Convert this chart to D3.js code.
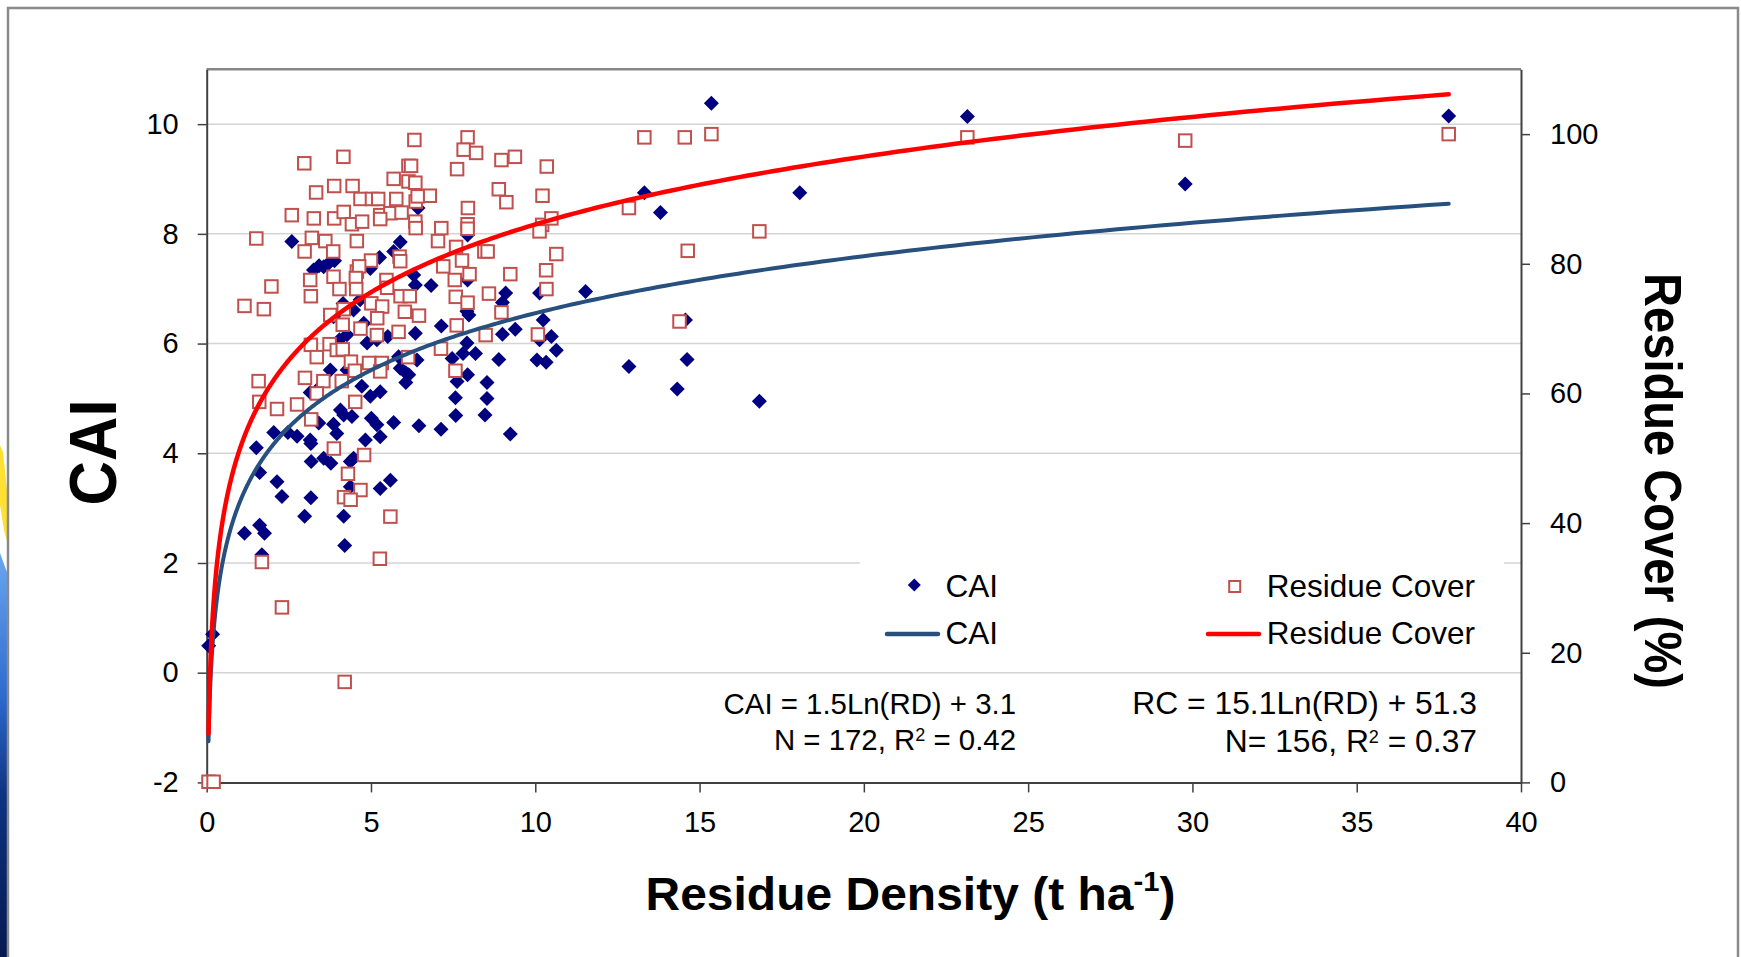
<!DOCTYPE html>
<html><head><meta charset="utf-8">
<script src="https://cdn.jsdelivr.net/npm/d3@7"></script>
<style>
body{margin:0;background:#fff}
svg{display:block}
text{font-family:"Liberation Sans",Arial,Helvetica,sans-serif}
</style>
</head><body>
<svg id="c" width="1741" height="957"></svg>
<script>
// ---------------- DATA ----------------
const caiRD = [2.59,5.89,3.89,5.26,5.69,3.25,3.56,4.98,4.15,4.47,4.67,6.30,6.35,6.83,7.94,9.10,9.00,11.53,10.13,13.32,
  13.81,7.94,6.43,7.14,6.35,7.92,7.98,10.24,10.13,10.49,10.64,9.39,9.00,8.89,10.05,10.33,12.85,14.32,7.92,8.18,
  7.80,7.47,7.94,7.62,8.53,7.57,8.53,5.84,6.40,5.89,6.06,6.06,6.15,4.72,5.28,4.98,3.86,4.78,5.18,5.51,
  4.88,4.27,4.04,3.35,3.15,3.76,4.27,1.51,2.04,2.47,2.75,3.15,3.17,3.41,3.86,3.96,4.07,4.17,4.42,4.83,
  5.01,5.18,5.28,5.69,6.46,7.13,7.58,8.47,9.24,1.61,2.14,2.29,3.17,2.98,3.18,3.56,3.78,4.17,4.20,4.37,
  4.47,5.28,5.59,4.37,1.15,1.61,1.76,1.68,0.06,0.18,14.57,14.62,15.36,18.05,23.15,29.78,37.80,16.82,3.42,3.72];
const caiVal = [7.86,7.85,7.51,7.57,7.68,7.34,7.40,7.37,6.73,6.61,6.80,7.25,7.07,7.06,7.16,6.92,6.75,6.95,6.92,8.75,
  8.39,7.98,8.47,6.32,6.19,6.59,6.52,6.43,6.07,6.13,5.88,6.26,6.17,5.71,5.70,5.66,5.58,5.17,6.01,5.82,
  5.82,5.73,5.43,5.31,5.29,5.01,5.00,5.76,5.70,5.55,5.47,5.29,5.43,5.22,5.12,5.04,6.49,6.37,6.07,6.13,
  6.01,6.16,6.07,5.15,5.11,5.52,5.52,4.10,4.38,4.38,4.31,4.24,4.18,4.55,4.53,4.36,4.79,4.70,4.67,4.24,
  4.64,4.52,4.30,4.56,4.50,4.44,4.69,4.70,4.35,3.65,3.48,3.21,3.19,2.85,3.85,3.91,3.82,2.85,2.32,3.85,
  3.91,3.36,3.51,3.39,2.54,2.69,2.54,2.15,0.49,0.70,6.43,5.71,10.38,8.75,10.14,8.91,10.15,4.95,7.42,7.47];

const rcRD = [6.32,7.94,4.16,2.97,7.82,8.20,8.97,9.38,6.14,6.22,7.62,10.35,13.32,14.55,5.69,6.14,6.35,3.33,3.88,4.44,
  8.89,9.12,10.22,4.68,5.03,5.22,5.77,6.36,6.79,6.42,2.59,3.26,3.88,4.17,4.42,4.73,5.28,5.59,5.93,6.35,
  6.36,7.95,7.94,7.94,7.14,10.21,10.49,10.13,5.28,12.85,1.51,3.20,3.61,4.57,3.85,2.98,7.04,7.59,8.45,8.55,
  10.64,14.64,5.00,5.87,5.89,7.77,7.20,8.00,7.55,9.24,10.33,1.97,3.15,3.86,4.57,4.64,4.54,5.47,1.15,1.74,
  3.17,4.04,4.55,5.49,5.90,6.18,7.58,7.94,8.59,10.34,3.76,4.17,5.01,5.34,6.03,6.46,8.97,14.39,4.14,4.68,
  5.19,5.18,5.84,7.61,3.17,3.74,3.96,4.14,3.35,4.39,4.94,5.33,6.13,7.13,8.49,10.08,1.58,2.99,3.55,4.11,
  4.51,5.28,7.57,3.35,1.60,2.14,2.75,3.18,4.52,3.87,4.79,4.30,4.68,4.18,4.38,5.59,5.27,1.68,2.29,4.20,
  0.055,0.21,15.36,16.82,23.15,29.78,37.80];
const rcVal = [99.1,99.5,96.5,95.5,97.6,97.1,96.0,96.5,95.1,95.1,94.6,95.0,99.5,99.5,93.1,92.7,92.5,91.0,92.0,92.0,
  91.5,89.5,90.5,90.0,90.0,90.0,90.0,89.6,90.5,90.4,87.5,87.0,87.0,88.0,86.1,86.5,87.5,87.8,87.9,86.5,
  85.5,88.6,86.1,85.4,85.5,86.0,87.0,85.0,86.9,88.6,83.9,84.0,83.5,83.5,81.9,81.9,83.5,82.6,81.9,81.9,
  81.5,82.0,80.5,81.1,80.4,80.5,79.6,78.4,77.5,78.4,79.0,76.5,77.5,78.0,78.8,79.6,77.8,77.5,73.5,73.0,
  75.0,76.1,76.1,76.3,75.0,75.0,74.9,74.0,75.4,76.1,72.1,73.0,73.9,73.4,72.6,72.0,72.5,71.1,70.6,70.0,
  71.6,69.0,69.5,70.5,67.5,67.6,66.7,66.8,65.6,64.9,64.7,64.7,65.6,66.9,69.0,69.1,61.9,62.4,61.9,61.9,
  63.5,63.4,63.5,60.0,58.7,57.6,58.3,56.0,58.7,51.5,50.5,47.6,45.1,44.0,43.6,41.0,34.5,34.0,27.0,15.5,
  0.1,0.1,100.0,85.0,99.5,99.0,100.0];

const xTicks = [0,5,10,15,20,25,30,35,40];
const caiTicks = [-2,0,2,4,6,8,10];
const rcTicks = [0,20,40,60,80,100];
const xDomain = [0,40], caiDomain = [-2,11], rcDomain = [0,110];
// logarithmic trendlines as printed on the chart: y = a*Ln(RD) + b
const caiFit = [1.5, 3.1];
const rcFit = [15.1, 51.3];
const fitRange = [0.055, 37.8];
const caiEq = ["CAI = 1.5Ln(RD) + 3.1", "N = 172, R", "2", " = 0.42"];
const rcEq = ["RC = 15.1Ln(RD) + 51.3", "N= 156, R", "2", " = 0.37"];

// ---------------- CHART ----------------
const svg = d3.select("#c");
const FONT = '"Liberation Sans",Arial,sans-serif';
const L = 206.7, R = 1521, T = 69.3, B = 782.4;
const x = d3.scaleLinear(xDomain, [L, R]);
const yL = d3.scaleLinear(caiDomain, [B, T]);
const yR = d3.scaleLinear(rcDomain, [B, T]);

svg.append("rect").attr("width",1741).attr("height",957).attr("fill","#fff");

// slide decoration at far left
const defs = svg.append("defs");
const gb = defs.append("linearGradient").attr("id","gblue").attr("x1",0).attr("y1",0).attr("x2",0).attr("y2",1);
gb.append("stop").attr("offset","0").attr("stop-color","#6aa7f0");
gb.append("stop").attr("offset","0.35").attr("stop-color","#2f6bd0");
gb.append("stop").attr("offset","0.6").attr("stop-color","#0d3381");
gb.append("stop").attr("offset","1").attr("stop-color","#061a4f");
svg.append("path").attr("d","M0,445 L3,452 L8,500 L8,545 L4,530 L0,505 Z").attr("fill","#ffe033");
svg.append("path").attr("d","M0,553 L8,575 L8,957 L0,957 Z").attr("fill","url(#gblue)");
// frame
svg.append("path").attr("d","M8,960 L8,8 L1738,8 L1738,960").attr("fill","none")
  .attr("stroke","#8a8a8a").attr("stroke-width",2.5);

// gridlines
svg.append("g").selectAll("line").data(caiTicks.filter(d=>d>-2)).join("line")
  .attr("x1",L).attr("x2",R).attr("y1",d=>yL(d)).attr("y2",d=>yL(d))
  .attr("stroke","#d4d4d4").attr("stroke-width",1.5);
// plot area top border
svg.append("line").attr("x1",L).attr("x2",R).attr("y1",T).attr("y2",T)
  .attr("stroke","#868686").attr("stroke-width",2.5);

function styleAxis(g){
  g.select(".domain").attr("stroke","#404040").attr("stroke-width",2);
  g.selectAll(".tick line").attr("stroke","#404040").attr("stroke-width",1.5);
  g.selectAll(".tick text").attr("fill","#000").style("font-family",FONT).style("font-size","29px");
}
const plain = d => String(d);
svg.append("g").attr("transform",`translate(${L},0)`)
  .call(d3.axisLeft(yL).tickValues(caiTicks).tickFormat(plain).tickSize(9).tickSizeOuter(0).tickPadding(19)).call(styleAxis);
svg.append("g").attr("transform",`translate(${R},0)`)
  .call(d3.axisRight(yR).tickValues(rcTicks).tickFormat(plain).tickSize(9).tickSizeOuter(0).tickPadding(20)).call(styleAxis);
svg.append("g").attr("transform",`translate(0,${B})`)
  .call(d3.axisBottom(x).tickValues(xTicks).tickFormat(plain).tickSize(10).tickSizeOuter(0).tickPadding(19)).call(styleAxis);

// markers
const diamond = { draw(ctx, size){ const r = Math.sqrt(size/2);
  ctx.moveTo(0,-r); ctx.lineTo(r,0); ctx.lineTo(0,r); ctx.lineTo(-r,0); ctx.closePath(); } };
const caiPts = caiRD.map((d,i)=>[d, caiVal[i]]);
const rcPts = rcRD.map((d,i)=>[d, rcVal[i]]);
svg.append("g").selectAll("path").data(caiPts).join("path")
  .attr("d", d3.symbol().type(diamond).size(2*7.5*7.5))
  .attr("transform", d=>`translate(${x(d[0])},${yL(d[1])})`)
  .attr("fill","#000080");
const SQ = 12.5;
svg.append("g").selectAll("rect").data(rcPts).join("rect")
  .attr("x", d=>x(d[0])-SQ/2).attr("y", d=>yR(d[1])-SQ/2).attr("width",SQ).attr("height",SQ)
  .attr("fill","#fff").attr("stroke","#c0504d").attr("stroke-width",2);

// trendlines
const fitX = d3.range(0,401).map(i => fitRange[0]*Math.pow(fitRange[1]/fitRange[0], i/400));
svg.append("path").datum(fitX)
  .attr("d", d3.line().x(d=>x(d)).y(d=>yL(caiFit[0]*Math.log(d)+caiFit[1])))
  .attr("fill","none").attr("stroke","#27507f").attr("stroke-width",4).attr("stroke-linecap","round");
svg.append("path").datum(fitX)
  .attr("d", d3.line().x(d=>x(d)).y(d=>yR(rcFit[0]*Math.log(d)+rcFit[1])))
  .attr("fill","none").attr("stroke","#ff0000").attr("stroke-width",4.5).attr("stroke-linecap","round");

// legend
const lg = svg.append("g");
lg.append("rect").attr("x",860).attr("y",553).attr("width",644).attr("height",108).attr("fill","#fff");
lg.append("path").attr("d", d3.symbol().type(diamond).size(2*6.5*6.5)).attr("transform","translate(914.3,585)").attr("fill","#000080");
lg.append("rect").attr("x",1234.7-5.5).attr("y",586.5-5.5).attr("width",11).attr("height",11)
  .attr("fill","#fff").attr("stroke","#c0504d").attr("stroke-width",2);
lg.append("line").attr("x1",887).attr("x2",938).attr("y1",634).attr("y2",634).attr("stroke","#27507f").attr("stroke-width",4.5).attr("stroke-linecap","round");
lg.append("line").attr("x1",1208).attr("x2",1259).attr("y1",634).attr("y2",634).attr("stroke","#ff0000").attr("stroke-width",4.5).attr("stroke-linecap","round");
const legTxt = [["CAI",945.4,596.7],["Residue Cover",1266.7,596.7],["CAI",945.4,644.3],["Residue Cover",1266.7,644.3]];
lg.selectAll("text").data(legTxt).join("text").attr("x",d=>d[1]).attr("y",d=>d[2]).text(d=>d[0])
  .style("font-size","31.5px").attr("fill","#000");

// equations
function eq(lines, xr, y1, y2, fs){
  svg.append("text").attr("x",xr).attr("y",y1).attr("text-anchor","end").style("font-size",fs+"px").text(lines[0]);
  const t = svg.append("text").attr("x",xr).attr("y",y2).attr("text-anchor","end").style("font-size",fs+"px");
  t.append("tspan").text(lines[1]);
  t.append("tspan").attr("dy",-9).style("font-size","18px").text(lines[2]);
  t.append("tspan").attr("dy",9).text(lines[3]);
}
eq(caiEq, 1016, 714, 749.5, 29.4);
eq(rcEq, 1477, 714, 751.5, 31.8);

// axis titles, scaled to the reference lengths
function fit(t, len){ const w = t.node().getComputedTextLength(); return len / w; }
{
  const g = svg.append("g");
  const t = g.append("text").attr("text-anchor","start").style("font-size","46px").style("font-weight","bold");
  t.append("tspan").text("Residue Density (t ha");
  t.append("tspan").attr("dy",-19).style("font-size","28px").text("-1");
  t.append("tspan").attr("dy",19).text(")");
  const bb = t.node().getBBox();
  const s = 530 / bb.width;
  g.attr("transform",`translate(910.5,910) scale(${s},1) translate(${-(bb.x+bb.width/2)},0)`);
}
{
  const t = svg.append("text").attr("text-anchor","middle").style("font-size","66px").style("font-weight","bold").text("CAI");
  const s = fit(t, 106);
  t.attr("transform",`translate(116,452.5) rotate(-90) scale(${s},1)`);
}
{
  const t = svg.append("text").attr("text-anchor","middle").style("font-size","52px").style("font-weight","bold").text("Residue Cover (%)");
  const s = fit(t, 416);
  t.attr("transform",`translate(1645,481) rotate(90) scale(${s},1)`);
}
</script>
</body></html>
